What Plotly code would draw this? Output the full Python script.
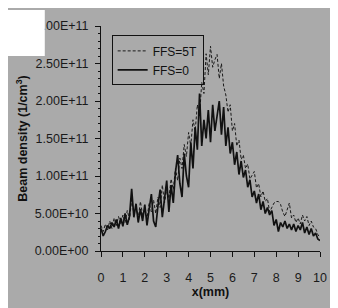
import plotly.graph_objects as go

# ---- data (values in units of 1e10 cm^-3) ----
x_mm = [round(i * 0.1, 1) for i in range(101)]

ffs_0 = [3.0, 2.0, 2.6, 3.4, 3.0, 3.8, 3.2, 4.2, 3.0, 4.4,
         3.3, 5.0, 3.5, 4.6, 8.3, 4.5, 6.3, 3.8, 5.6, 4.0,
         6.2, 3.4, 5.6, 7.6, 4.0, 3.2, 6.0, 8.2, 4.5, 7.0,
         9.4, 5.2, 8.8, 6.4, 10.5, 12.8, 9.0, 7.2, 13.0, 10.0,
         8.5, 14.5, 11.0, 16.5, 13.5, 21.0, 14.0, 17.5, 15.0, 18.8,
         14.5, 19.5, 16.0, 18.0, 20.0, 15.5, 19.2, 14.0, 16.5, 13.0,
         14.5, 11.5, 13.2, 10.2, 12.0, 9.8, 10.8, 8.5, 9.5, 7.2,
         8.0, 6.4, 7.6, 5.5, 6.6, 5.0, 5.8, 4.8, 5.4, 3.4,
         4.2, 2.6, 3.8, 3.2, 4.0, 3.0, 3.6, 2.8, 3.6, 2.6,
         3.4, 2.8, 3.8, 2.4, 3.2, 2.2, 3.0, 2.0, 2.4, 1.6,
         1.4]

ffs_5t = [3.4, 2.6, 3.6, 2.8, 4.0, 3.0, 4.4, 3.4, 4.6, 3.6,
          4.8, 3.8, 5.4, 4.2, 6.8, 5.0, 5.8, 4.4, 6.6, 4.8,
          5.6, 4.4, 6.4, 5.2, 6.8, 5.0, 7.2, 5.8, 8.8, 6.4,
          8.2, 7.0, 9.6, 8.2, 11.0, 9.4, 12.4, 11.0, 14.2, 12.6,
          15.8, 14.0, 17.5, 16.0, 19.5, 18.0, 22.5, 21.0, 26.3, 23.5,
          27.3, 24.5, 25.5, 26.2, 23.0, 25.0, 22.0, 20.8, 18.5, 19.5,
          16.0, 17.0, 14.0, 14.8, 12.2, 12.8, 11.0, 11.6, 9.6, 10.2,
          10.6, 8.4, 9.0, 7.2, 8.0, 6.6, 7.0, 5.2, 5.8, 6.4,
          6.6, 6.6, 6.2, 5.2, 4.6, 5.4, 6.4, 4.4, 4.8, 3.8,
          4.4, 3.6, 4.8, 4.0, 4.6, 3.4, 4.0, 3.2, 3.0, 2.2,
          1.8]

y_tick_vals = [0, 5e10, 1e11, 1.5e11, 2e11, 2.5e11, 3e11]
y_tick_text = ["0.00E+00", "5.00E+10", "1.00E+11", "1.50E+11",
               "2.00E+11", "2.50E+11", "3.00E+11"]
x_tick_vals = list(range(11))

series_names = ["FFS=5T", "FFS=0"]

SCALE = 1e10

fig = go.Figure()
fig.add_trace(go.Scatter(
    x=x_mm, y=[v * SCALE for v in ffs_5t], mode="lines",
    name=series_names[0],
    line=dict(color="#1a1a1a", width=1, dash="3px,2px"),
))
fig.add_trace(go.Scatter(
    x=x_mm, y=[v * SCALE for v in ffs_0], mode="lines",
    name=series_names[1],
    line=dict(color="#111111", width=1.7),
))

GRAY = "#aaaaaa"
# the page body adds an 8px white margin at top/left; figure fills the rest
W, H = 330, 300
L, R, T, B = 93, 11, 12, 48
pw, ph = W - L - R, H - T - B


def px(xp):
    return (xp - L) / pw


def py(yp):
    return (H - B - yp) / ph


shapes = [
    # white notch at the top-left corner of the scanned page
    dict(type="rect", xref="paper", yref="paper", layer="above",
         x0=px(-5), x1=px(35), y0=py(44), y1=py(-5),
         fillcolor="white", line=dict(width=0)),
]

font_family = "Liberation Sans, Arial, sans-serif"

fig.update_layout(
    width=W, height=H,
    margin=dict(l=L, r=R, t=T, b=B, pad=0),
    paper_bgcolor=GRAY, plot_bgcolor=GRAY,
    font=dict(family=font_family, size=12, color="#1a1a1a"),
    showlegend=True,
    legend=dict(
        x=px(104), y=py(22), xanchor="left", yanchor="top",
        bgcolor="rgba(0,0,0,0)", bordercolor="#111111", borderwidth=1,
        font=dict(size=12, color="#111111"),
        tracegroupgap=0, itemwidth=30,
    ),
    shapes=shapes,
    xaxis=dict(
        range=[0, 10], tickvals=x_tick_vals, ticks="outside", ticklen=5,
        tickcolor="#111111", showline=True, linecolor="#111111", linewidth=1,
        showgrid=False, zeroline=False, ticklabelstandoff=10,
        tickfont=dict(size=12.5, color="#1a1a1a"),
        title=dict(text="<b>x(mm)</b>", standoff=3,
                   font=dict(size=12.5, color="#111111")),
    ),
    yaxis=dict(
        range=[0, 3e11], tickvals=y_tick_vals, ticktext=y_tick_text,
        ticks="outside", ticklen=5, tickcolor="#111111",
        showline=True, linecolor="#111111", linewidth=1,
        showgrid=False, zeroline=False, ticklabelstandoff=4,
        tickfont=dict(size=12.5, color="#1a1a1a"),
        minor=dict(ticks="outside", ticklen=2, dtick=1e10, tickcolor="#111111"),
        title=dict(text="<b>Beam density (1/cm<sup>3</sup>)</b>", standoff=4,
                   font=dict(size=12.5, color="#111111")),
    ),
)

fig.write_html("out.html")
